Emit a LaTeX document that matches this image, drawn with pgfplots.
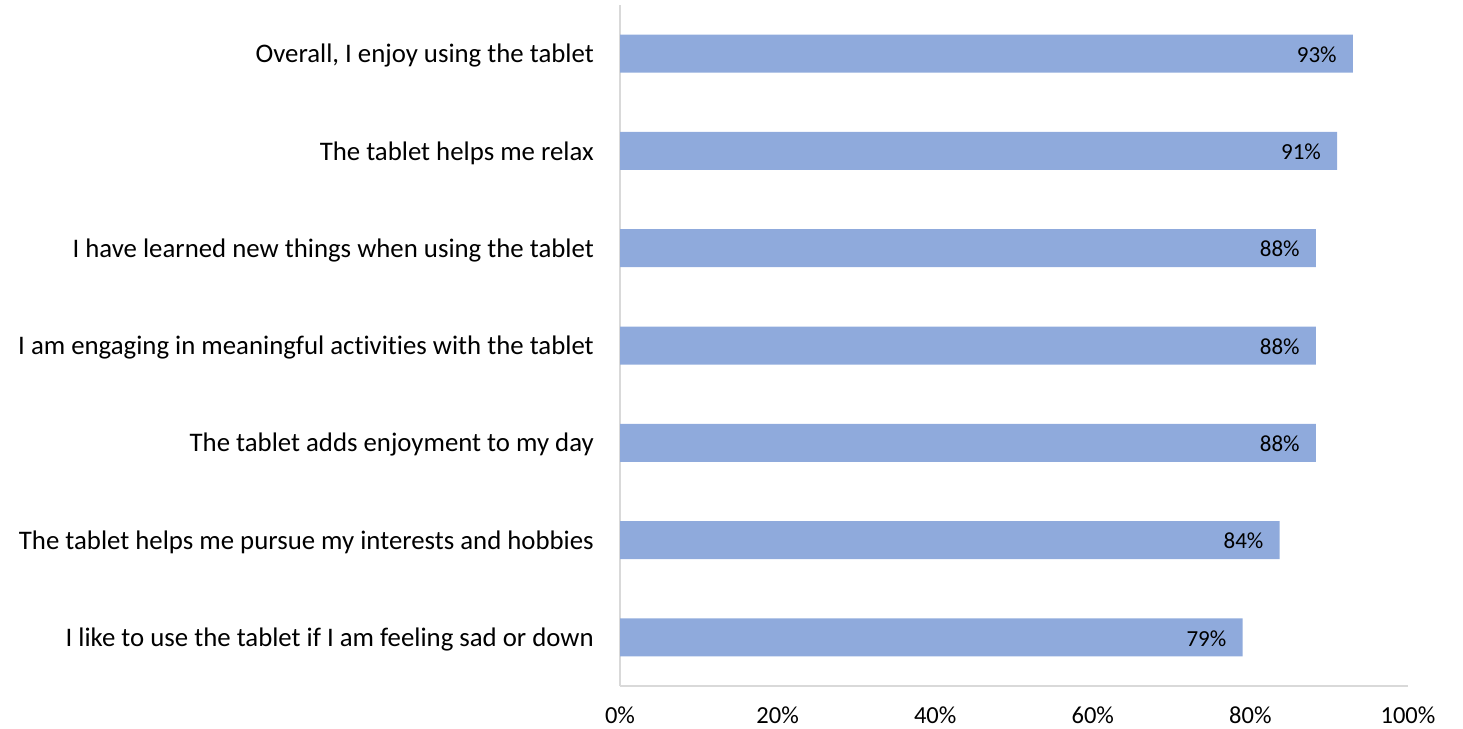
\documentclass[border=0pt]{standalone}
\usepackage{pgfplots}
\pgfplotsset{compat=1.18}
\usepackage{fontspec}
\setmainfont{Carlito}
\definecolor{barblue}{HTML}{8FAADC}
\definecolor{axgray}{HTML}{D9D9D9}
\begin{document}
\begin{tikzpicture}
\path[use as bounding box] (0,0) rectangle (1463pt,728pt);
\begin{axis}[
  at={(620pt,42pt)}, anchor=south west,
  scale only axis, width=788pt, height=681pt,
  xbar, bar width=38pt,
  xmin=0, xmax=100, ymin=-0.5, ymax=6.5,
  y dir=reverse,
  axis x line*=bottom, axis y line*=left,
  axis line style={axgray, line width=1.5pt},
  x axis line style={-}, y axis line style={-},
  /pgf/number format/assume math mode=true,
  xtick={0,20,40,60,80,100},
  xticklabels={0\%,20\%,40\%,60\%,80\%,100\%},
  ytick={0,1,2,3,4,5,6},
  yticklabels={{Overall, I enjoy using the tablet},
    {The tablet helps me relax},
    {I have learned new things when using the tablet},
    {I am engaging in meaningful activities with the tablet},
    {The tablet adds enjoyment to my day},
    {The tablet helps me pursue my interests and hobbies},
    {I like to use the tablet if I am feeling sad or down}},
  major tick length=0pt,
  tick style={draw=none},
  xticklabel style={font=\fontsize{24.5}{28}\selectfont, text=black, inner sep=0pt, anchor=north, yshift=-21pt},
  yticklabel style={font=\fontsize{26.8}{30}\selectfont\addfontfeatures{Ligatures=NoCommon}, text=black, inner sep=0pt, anchor=east, xshift=-26pt, yshift=-2pt},
  nodes near coords={\pgfmathprintnumber{\pgfplotspointmeta}\%},
  point meta=explicit,
  every node near coord/.append style={font=\fontsize{23}{27}\selectfont, text=black, anchor=east, xshift=-16pt, yshift=-1pt, inner sep=0pt},
  clip=false,
]
\addplot[fill=barblue, draw=none] coordinates {
  (93,0) [93]
  (91,1) [91]
  (88.3,2) [88]
  (88.3,3) [88]
  (88.3,4) [88]
  (83.7,5) [84]
  (79,6) [79]
};
\end{axis}
\end{tikzpicture}
\end{document}
